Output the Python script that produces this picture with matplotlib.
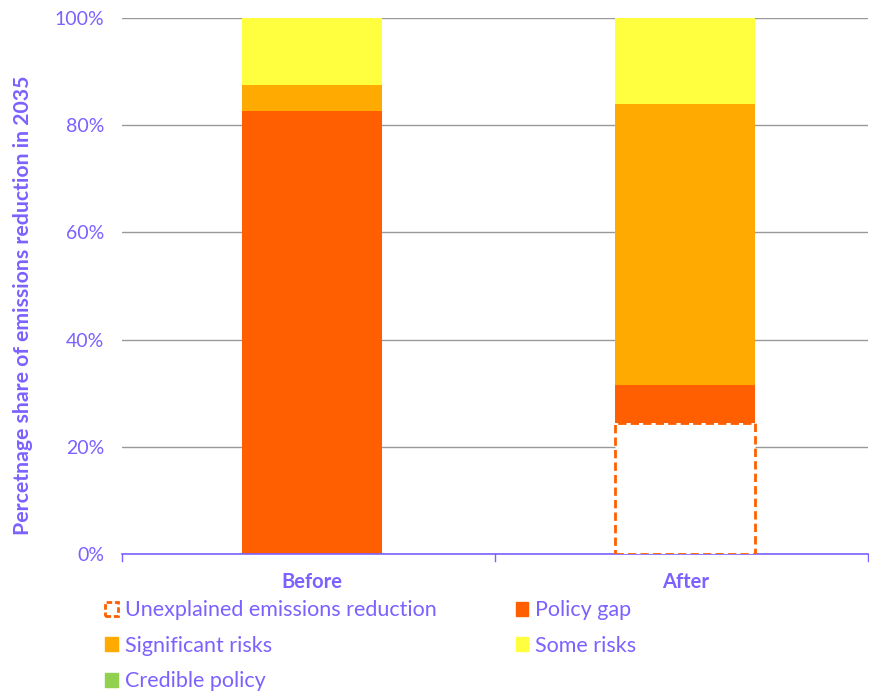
import matplotlib.pyplot as plt
import matplotlib.patches as mpatches
import numpy as np

# --- data ---
categories = ["Before", "After"]
unexplained = [0.0, 24.5]
policy_gap = [82.7, 7.0]
significant_risks = [4.8, 52.5]
some_risks = [12.5, 16.0]
credible_policy = [0.0, 0.0]

purple = "#7B61FF"
c_gap = "#FF5F00"
c_sig = "#FFAA00"
c_some = "#FFFF40"
c_cred = "#92D050"

plt.rcParams["font.family"] = ["Lato", "DejaVu Sans"]

fig = plt.figure(figsize=(8.69, 6.92), dpi=100)
ax = fig.add_axes([122 / 869, 1 - 554 / 692, 746 / 869, 536 / 692])

x = np.arange(len(categories))
w = 0.375

bottom = np.zeros(len(categories))
# unexplained: dashed outline, no fill
for i, v in enumerate(unexplained):
    if v > 0:
        ax.bar(x[i], v, w, bottom=bottom[i], facecolor="white", edgecolor=c_gap,
               linestyle=(0, (3, 1.5)), linewidth=2, zorder=3)
bottom += np.array(unexplained)
for vals, col in [(policy_gap, c_gap), (significant_risks, c_sig),
                  (some_risks, c_some), (credible_policy, c_cred)]:
    ax.bar(x, vals, w, bottom=bottom, color=col, zorder=2)
    bottom += np.array(vals)

ax.set_xlim(-0.51, 1.49)
ax.set_ylim(0, 100)
ax.set_yticks(range(0, 101, 20))
ax.set_yticklabels([f"{t}%" for t in range(0, 101, 20)], color=purple, fontsize=14)
ax.tick_params(axis="y", length=0, pad=13)
ax.yaxis.grid(True, color="#999999", linewidth=1, zorder=0)
ax.set_axisbelow(True)

ax.set_xticks(x)
ax.set_xticklabels(categories, color=purple, fontsize=14.5, fontweight="bold")
ax.tick_params(axis="x", length=0, pad=13)
for xb in [-0.51, 0.49, 1.49]:
    ax.plot([xb, xb], [0, -1.3], color=purple, linewidth=1, clip_on=False)

for s in ["top", "right", "left"]:
    ax.spines[s].set_visible(False)
ax.spines["bottom"].set_color(purple)
ax.spines["bottom"].set_linewidth(1.2)

ax.set_ylabel("Percetnage share of emissions reduction in 2035", color=purple,
              fontsize=15.3, fontweight="bold")
ax.yaxis.set_label_coords(-0.119, 0.465)

handles = [
    mpatches.Patch(facecolor="white", edgecolor=c_gap, linestyle=(0, (2, 1)),
                   linewidth=2, label="Unexplained emissions reduction"),
    mpatches.Patch(color=c_sig, label="Significant risks"),
    mpatches.Patch(color=c_cred, label="Credible policy"),
    mpatches.Patch(color=c_gap, label="Policy gap"),
    mpatches.Patch(color=c_some, label="Some risks"),
]
leg = fig.legend(handles=handles, ncol=2, loc="upper left",
                 bbox_to_anchor=(86 / 869, 1 - 581 / 692), frameon=False,
                 fontsize=15.5, handlelength=0.6, handleheight=0.6,
                 handletextpad=0.3, columnspacing=3.67, labelspacing=0.72)
for t in leg.get_texts():
    t.set_color(purple)

fig.savefig("out.png", dpi=100)
